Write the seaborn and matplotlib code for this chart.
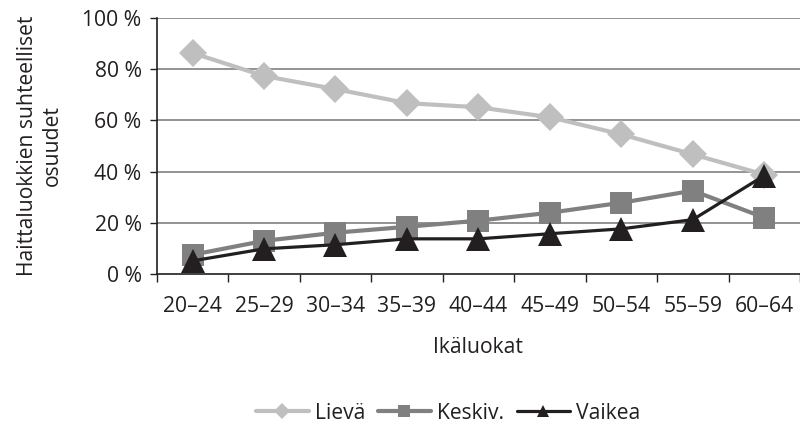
import matplotlib
matplotlib.use("Agg")
import matplotlib.pyplot as plt
import seaborn as sns
import pandas as pd
import numpy as np
from matplotlib.ticker import FixedLocator

categories = ["20–24", "25–29", "30–34", "35–39", "40–44", "45–49", "50–54", "55–59", "60–64"]
lieva = [86.3, 77.3, 72.2, 66.7, 65.1, 61.2, 54.5, 46.7, 38.8]
keskiv = [7.5, 12.9, 16.1, 18.4, 20.8, 23.9, 27.8, 32.5, 22.0]
vaikea = [5.1, 9.8, 11.4, 13.7, 13.7, 15.7, 17.6, 21.2, 38.4]
series_names = ["Lievä", "Keskiv.", "Vaikea"]
y_ticks = [0, 20, 40, 60, 80, 100]

sns.set_theme(style="white")
plt.rcParams['font.family'] = ['Open Sans', 'DejaVu Sans']

rows = []
for name, vals in zip(series_names, [lieva, keskiv, vaikea]):
    for i, v in enumerate(vals):
        rows.append({"x": i, "value": v, "series": name})
df = pd.DataFrame(rows)

FS = 15.2
TXT = "#231f20"

fig = plt.figure(figsize=(8, 4.26), dpi=100)
ax = fig.add_axes([0.196, 0.357, 0.804, 0.601])

palette = {"Lievä": "#bfbfbf", "Keskiv.": "#808080", "Vaikea": "#231f20"}
markers = {"Lievä": "D", "Keskiv.": "s", "Vaikea": "^"}
lws = {"Lievä": 3.0, "Keskiv.": 3.0, "Vaikea": 2.3}
msz = {"Lievä": 14, "Keskiv.": 16, "Vaikea": 17}

for name in series_names:
    sub = df[df.series == name]
    sns.lineplot(data=sub, x="x", y="value", ax=ax, color=palette[name],
                 marker=markers[name], markersize=msz[name], markeredgewidth=0,
                 linewidth=lws[name], label=name, legend=False)

ax.set_xlim(-0.5, 8.5)
ax.set_ylim(0, 100)
ax.set_yticks(y_ticks)
ax.set_yticklabels([f"{t} %" for t in y_ticks])
ax.set_xticks(range(len(categories)))
ax.set_xticklabels(categories)
ax.xaxis.set_minor_locator(FixedLocator(np.arange(-0.5, 9.0, 1.0)))
ax.tick_params(axis="x", which="major", length=0, pad=16, labelsize=FS, colors=TXT)
ax.tick_params(axis="x", which="minor", length=6, width=1, direction="out", color=TXT, bottom=True)
ax.tick_params(axis="y", which="major", length=5, width=1, direction="out", color=TXT, left=True,
               labelsize=FS, labelcolor=TXT, pad=6)

for yv in y_ticks[1:]:
    ax.axhline(yv, color="#808080", linewidth=1.2, zorder=0)

for s in ["top", "right"]:
    ax.spines[s].set_visible(False)
for s in ["left", "bottom"]:
    ax.spines[s].set_color(TXT)
    ax.spines[s].set_linewidth(1.2)

ax.set_xlabel("Ikäluokat", fontsize=FS, color=TXT, labelpad=14)
ax.set_ylabel("Haittaluokkien suhteelliset\nosuudet", fontsize=FS, color=TXT, labelpad=14,
              linespacing=1.25, multialignment="center")

handles, labels = ax.get_legend_handles_labels()
fig.legend(handles, labels, loc="center", bbox_to_anchor=(0.56, 0.03), ncol=3, frameon=False,
           fontsize=FS, handlelength=2.5, columnspacing=0.6, handletextpad=0.3,
           labelcolor=TXT, markerscale=0.55)

fig.savefig("out.png", dpi=100)
